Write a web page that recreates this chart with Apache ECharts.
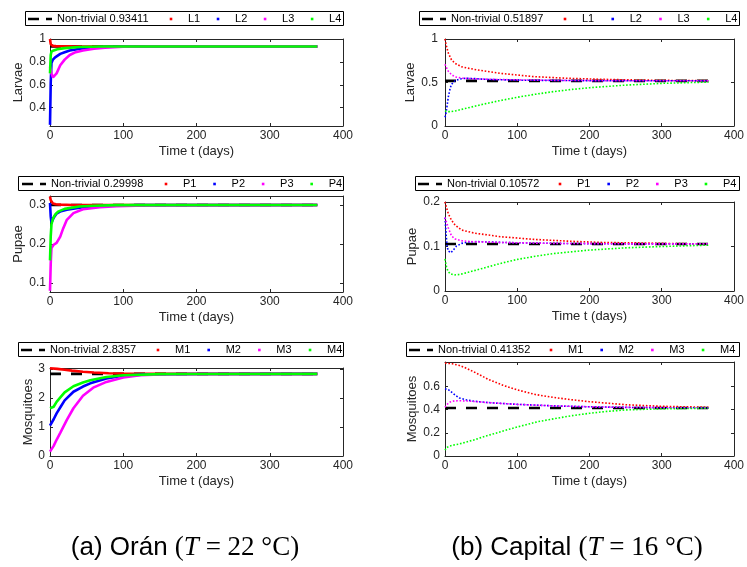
<!DOCTYPE html>
<html>
<head>
<meta charset="utf-8">
<title>Non-trivial equilibrium: Orán vs Capital</title>
<script src="https://cdn.jsdelivr.net/npm/echarts@6/dist/echarts.min.js"></script>
<style>
  html, body { margin: 0; padding: 0; background: #fff; }
  #chart { width: 747px; height: 567px; }
</style>
</head>
<body>
<div id="chart"></div>
<script>
// ---- data: [time (days), value] ----
const timeTicks = [0, 100, 200, 300, 400];

// (a) Orán, T = 22 °C
const oranLarvaeEq = 0.93411;
const oranL1 = [[0, 1.0], [1, 0.955], [2, 0.945], [4, 0.94], [8, 0.938], [15, 0.937], [30, 0.936], [60, 0.935], [100, 0.9345], [365, 0.9341]];
const oranL2 = [[0, 0.25], [1, 0.62], [2, 0.79], [4, 0.82], [7, 0.84], [14, 0.87], [20, 0.885], [27, 0.9], [41, 0.915], [55, 0.925], [68, 0.93], [100, 0.934], [365, 0.9341]];
const oranL3 = [[0, 0.76], [2, 0.7], [4, 0.665], [6, 0.66], [9, 0.7], [14, 0.77], [20, 0.82], [27, 0.86], [35, 0.885], [45, 0.9], [60, 0.915], [75, 0.925], [100, 0.932], [140, 0.934], [365, 0.9341]];
const oranL4 = [[0, 0.7], [1, 0.86], [2, 0.89], [5, 0.9], [10, 0.91], [20, 0.92], [40, 0.93], [70, 0.934], [365, 0.9341]];
const oranLarvaeTicks = [0.4, 0.6, 0.8, 1];

const oranPupaeEq = 0.29998;
const oranP1 = [[0, 0.322], [1, 0.312], [2, 0.307], [4, 0.304], [8, 0.302], [15, 0.301], [30, 0.3], [365, 0.29998]];
const oranP2 = [[0, 0.305], [1, 0.27], [2, 0.255], [3, 0.257], [5, 0.267], [9, 0.278], [15, 0.284], [23, 0.288], [45, 0.294], [80, 0.298], [120, 0.2995], [365, 0.29998]];
const oranP3 = [[0, 0.08], [1, 0.15], [2, 0.19], [5, 0.198], [9, 0.203], [14, 0.219], [18, 0.24], [23, 0.262], [32, 0.279], [45, 0.289], [68, 0.294], [91, 0.297], [130, 0.299], [365, 0.29998]];
const oranP4 = [[0, 0.158], [1, 0.22], [2, 0.25], [4, 0.265], [7, 0.275], [11, 0.283], [20, 0.29], [40, 0.296], [60, 0.298], [90, 0.2995], [365, 0.29998]];
const oranPupaeTicks = [0.1, 0.2, 0.3];

const oranMosqEq = 2.8357;
const oranM1 = [[0, 3.03], [10, 3.01], [20, 2.98], [30, 2.95], [45, 2.91], [60, 2.885], [80, 2.86], [100, 2.85], [150, 2.84], [200, 2.837], [365, 2.8357]];
const oranM2 = [[0, 1.05], [5, 1.27], [9, 1.47], [15, 1.72], [20, 1.92], [32, 2.22], [45, 2.4], [55, 2.51], [77, 2.68], [100, 2.77], [125, 2.81], [150, 2.825], [200, 2.834], [365, 2.8357]];
const oranM3 = [[0, 0.15], [5, 0.35], [9, 0.56], [14, 0.8], [23, 1.25], [32, 1.65], [45, 2.08], [59, 2.36], [77, 2.56], [100, 2.71], [123, 2.79], [150, 2.82], [200, 2.833], [365, 2.8357]];
const oranM4 = [[0, 1.65], [2, 1.63], [5, 1.7], [9, 1.87], [15, 2.05], [20, 2.2], [32, 2.41], [45, 2.54], [55, 2.62], [77, 2.73], [100, 2.79], [150, 2.83], [200, 2.835], [365, 2.8357]];
const oranMosqTicks = [0, 1, 2, 3];

// (b) Capital, T = 16 °C
const capLarvaeEq = 0.51897;
const capL1 = [[0, 1.0], [2, 0.92], [4.5, 0.84], [9, 0.76], [14, 0.72], [23, 0.68], [41, 0.65], [77, 0.605], [123, 0.567], [170, 0.548], [220, 0.536], [270, 0.528], [320, 0.523], [365, 0.521]];
const capL2 = [[0, 0.1], [1, 0.13], [2, 0.18], [3, 0.24], [4.5, 0.33], [7, 0.43], [9, 0.48], [14, 0.52], [20, 0.54], [28, 0.548], [40, 0.545], [60, 0.535], [100, 0.527], [200, 0.521], [365, 0.519]];
const capL3 = [[0, 0.71], [2, 0.67], [4.5, 0.63], [9, 0.59], [14, 0.565], [23, 0.55], [40, 0.543], [70, 0.535], [100, 0.53], [150, 0.525], [200, 0.522], [365, 0.519]];
const capL4 = [[0, 0.175], [3, 0.165], [8, 0.165], [15, 0.175], [30, 0.205], [50, 0.245], [75, 0.29], [100, 0.33], [125, 0.365], [150, 0.395], [175, 0.42], [200, 0.44], [250, 0.47], [300, 0.49], [365, 0.505]];
const capLarvaeTicks = [0, 0.5, 1];

const capPupaeEq = 0.10572;
const capP1 = [[0, 0.2], [2, 0.188], [4.5, 0.174], [9, 0.159], [14, 0.148], [23, 0.137], [41, 0.13], [77, 0.122], [123, 0.116], [170, 0.112], [220, 0.109], [270, 0.108], [320, 0.1065], [365, 0.106]];
const capP2 = [[0, 0.165], [1, 0.14], [2, 0.118], [3, 0.1], [4.5, 0.09], [6, 0.086], [8, 0.086], [11, 0.091], [16, 0.101], [23, 0.107], [32, 0.11], [45, 0.111], [80, 0.109], [150, 0.107], [250, 0.106], [365, 0.1058]];
const capP3 = [[0, 0.165], [2, 0.155], [4.5, 0.142], [9, 0.124], [14, 0.117], [23, 0.113], [35, 0.111], [80, 0.109], [150, 0.107], [250, 0.106], [365, 0.1058]];
const capP4 = [[0, 0.072], [2, 0.055], [4, 0.045], [7, 0.039], [12, 0.036], [20, 0.037], [32, 0.042], [50, 0.05], [77, 0.062], [100, 0.071], [125, 0.078], [150, 0.084], [200, 0.092], [250, 0.097], [300, 0.1], [365, 0.103]];
const capPupaeTicks = [0, 0.1, 0.2];

const capMosqEq = 0.41352;
const capM1 = [[0, 0.8], [10, 0.795], [20, 0.78], [30, 0.755], [40, 0.725], [60, 0.66], [80, 0.61], [100, 0.57], [125, 0.53], [150, 0.505], [175, 0.485], [200, 0.468], [250, 0.442], [300, 0.428], [365, 0.42]];
const capM2 = [[0, 0.58], [5, 0.57], [10, 0.545], [15, 0.52], [20, 0.5], [30, 0.483], [40, 0.472], [60, 0.46], [100, 0.445], [150, 0.432], [200, 0.424], [250, 0.419], [300, 0.416], [365, 0.415]];
const capM3 = [[0, 0.42], [3, 0.445], [7, 0.465], [13, 0.475], [20, 0.476], [30, 0.474], [40, 0.47], [60, 0.46], [100, 0.445], [150, 0.432], [200, 0.424], [250, 0.419], [300, 0.416], [365, 0.415]];
const capM4 = [[0, 0.05], [2, 0.07], [5, 0.082], [10, 0.092], [20, 0.104], [38, 0.135], [60, 0.178], [84, 0.222], [100, 0.25], [128, 0.295], [150, 0.32], [175, 0.347], [200, 0.368], [220, 0.382], [250, 0.397], [300, 0.407], [365, 0.412]];
const capMosqTicks = [0, 0.2, 0.4, 0.6];

// ---- styling / layout ----
const FONT = '"Liberation Sans", Arial, Helvetica, sans-serif';
const SERIF = '"Liberation Serif", "Times New Roman", serif';
const AXIS_COLOR = '#262626';
const COLORS = ['#ff0000', '#0000ff', '#ff00ff', '#00ff00'];
// icons keep a 24x12 bounding box through the leading moveTo's
const DASH_ICON = 'path://M0,0M24,12M0,4.7h11v2.6h-11zM18,4.7h6v2.6h-6z';
const DOT_ICON = 'path://M0,0M24,12M10.7,4.7h2.6v2.6h-2.6z';

const panels = [
  { yName: 'Larvae', eq: oranLarvaeEq, labels: ['L1', 'L2', 'L3', 'L4'], curves: [oranL1, oranL2, oranL3, oranL4],
    yMin: 0.24, yMax: 1, yTicks: oranLarvaeTicks, dotted: false,
    grid: { left: 50, top: 39, width: 293, height: 87 }, yNameGap: 25, labelMargin: 4,
    box: [25, 11, 318, 14], ntLeft: 28, dotsLeft: 159, dotsGap: 5.8 },
  { yName: 'Pupae', eq: oranPupaeEq, labels: ['P1', 'P2', 'P3', 'P4'], curves: [oranP1, oranP2, oranP3, oranP4],
    yMin: 0.077, yMax: 0.323, yTicks: oranPupaeTicks, dotted: false,
    grid: { left: 50, top: 196, width: 293, height: 96 }, yNameGap: 24, labelMargin: 4,
    box: [18, 176, 325, 14], ntLeft: 22, dotsLeft: 154, dotsGap: 6.1 },
  { yName: 'Mosquitoes', eq: oranMosqEq, labels: ['M1', 'M2', 'M3', 'M4'], curves: [oranM1, oranM2, oranM3, oranM4],
    yMin: 0, yMax: 3.04, yTicks: oranMosqTicks, dotted: false,
    grid: { left: 50, top: 368, width: 293, height: 88 }, yNameGap: 15, labelMargin: 5,
    box: [18, 342, 325, 14], ntLeft: 21, dotsLeft: 146, dotsGap: 6.4 },
  { yName: 'Larvae', eq: capLarvaeEq, labels: ['L1', 'L2', 'L3', 'L4'], curves: [capL1, capL2, capL3, capL4],
    yMin: 0, yMax: 1, yTicks: capLarvaeTicks, dotted: true,
    grid: { left: 445, top: 39, width: 293, height: 87 }, yNameGap: 24, labelMargin: 7,
    box: [419, 11, 320, 14], ntLeft: 422, dotsLeft: 553, dotsGap: 6.5 },
  { yName: 'Pupae', eq: capPupaeEq, labels: ['P1', 'P2', 'P3', 'P4'], curves: [capP1, capP2, capP3, capP4],
    yMin: 0, yMax: 0.2, yTicks: capPupaeTicks, dotted: true,
    grid: { left: 445, top: 202, width: 293, height: 89 }, yNameGap: 24, labelMargin: 5,
    box: [415, 176, 324, 14], ntLeft: 418, dotsLeft: 548, dotsGap: 6.2 },
  { yName: 'Mosquitoes', eq: capMosqEq, labels: ['M1', 'M2', 'M3', 'M4'], curves: [capM1, capM2, capM3, capM4],
    yMin: 0, yMax: 0.81, yTicks: capMosqTicks, dotted: true,
    grid: { left: 445, top: 362, width: 293, height: 94 }, yNameGap: 24, labelMargin: 5,
    box: [406, 342, 333, 14], ntLeft: 409, dotsLeft: 539, dotsGap: 6.4 }
];

const chart = echarts.init(document.getElementById('chart'));

const option = {
  animation: false,
  backgroundColor: '#fff',
  grid: [],
  xAxis: [],
  yAxis: [],
  legend: [],
  series: [],
  graphic: []
};

const axisLine = { show: true, onZero: false, lineStyle: { color: AXIS_COLOR, width: 1 } };

panels.forEach((p, i) => {
  option.grid.push({ ...p.grid, containLabel: false });

  const xBase = {
    gridIndex: i, type: 'value', min: 0, max: 400,
    splitLine: { show: false }, axisLine: axisLine,
    axisTick: { show: true, inside: true, length: 3, customValues: timeTicks, lineStyle: { color: AXIS_COLOR } }
  };
  option.xAxis.push({
    ...xBase, position: 'bottom',
    name: 'Time t (days)', nameLocation: 'middle', nameGap: 19,
    nameTextStyle: { fontSize: 13, color: AXIS_COLOR, fontFamily: FONT },
    axisLabel: { customValues: timeTicks, margin: 4, fontSize: 12, color: AXIS_COLOR, fontFamily: FONT }
  });
  option.xAxis.push({ ...xBase, position: 'top', axisLabel: { show: false } });

  const yBase = {
    gridIndex: i, type: 'value', min: p.yMin, max: p.yMax,
    splitLine: { show: false }, axisLine: axisLine,
    axisTick: { show: true, inside: true, length: 3, customValues: p.yTicks, lineStyle: { color: AXIS_COLOR } }
  };
  option.yAxis.push({
    ...yBase, position: 'left',
    name: p.yName, nameLocation: 'middle', nameGap: p.yNameGap,
    nameTextStyle: { fontSize: 13, color: AXIS_COLOR, fontFamily: FONT },
    axisLabel: { customValues: p.yTicks, margin: p.labelMargin, fontSize: 12, color: AXIS_COLOR, fontFamily: FONT }
  });
  option.yAxis.push({ ...yBase, position: 'right', axisLabel: { show: false } });

  // equilibrium (dashed black) under the trajectories
  const ntName = 'Non-trivial ' + p.eq;
  option.series.push({
    type: 'line', name: ntName, xAxisIndex: 2 * i, yAxisIndex: 2 * i,
    data: [[0, p.eq], [365, p.eq]], symbol: 'none', silent: true, z: 2,
    itemStyle: { color: '#000' },
    lineStyle: { color: '#000', width: 2.6, type: [11, 10] }
  });

  p.curves.forEach((curve, k) => {
    option.series.push({
      type: 'line', name: p.labels[k], xAxisIndex: 2 * i, yAxisIndex: 2 * i,
      data: curve, symbol: 'none', silent: true, z: 3,
      itemStyle: { color: COLORS[k] },
      lineStyle: p.dotted
        ? { color: COLORS[k], width: 1.6, type: [1.6, 1.8] }
        : { color: COLORS[k], width: 2.6, type: 'solid' }
    });
  });

  // legend box
  option.graphic.push({
    type: 'rect', z: 1,
    shape: { x: p.box[0] + 0.5, y: p.box[1] + 0.5, width: p.box[2], height: p.box[3] },
    style: { fill: '#fff', stroke: '#000', lineWidth: 1 }
  });

  const legendBase = {
    top: p.box[1] + 2, padding: 0, itemWidth: 24, itemHeight: 12, selectedMode: false, z: 10,
    itemStyle: { borderWidth: 0 },
    textStyle: { fontSize: 11, fontFamily: FONT, color: '#000' }
  };
  option.legend.push({ ...legendBase, left: p.ntLeft, icon: DASH_ICON, data: [ntName] });
  option.legend.push({ ...legendBase, left: p.dotsLeft, itemGap: p.dotsGap, icon: DOT_ICON, data: p.labels });
});

// sub-figure captions
const captionRich = {
  s: { fontFamily: FONT, fontSize: 26, fill: '#000' },
  m: { fontFamily: SERIF, fontSize: 27, fill: '#000' },
  i: { fontFamily: SERIF, fontSize: 27, fontStyle: 'italic', fill: '#000' }
};
option.graphic.push({
  type: 'text', x: 185, y: 548, z: 10,
  style: { text: '{s|(a) Orán }{m|(}{i|T}{m| = 22 °C)}', rich: captionRich, align: 'center', verticalAlign: 'middle' }
});
option.graphic.push({
  type: 'text', x: 577, y: 548, z: 10,
  style: { text: '{s|(b) Capital }{m|(}{i|T}{m| = 16 °C)}', rich: captionRich, align: 'center', verticalAlign: 'middle' }
});

chart.setOption(option);
window.addEventListener('resize', () => chart.resize());
</script>
</body>
</html>
